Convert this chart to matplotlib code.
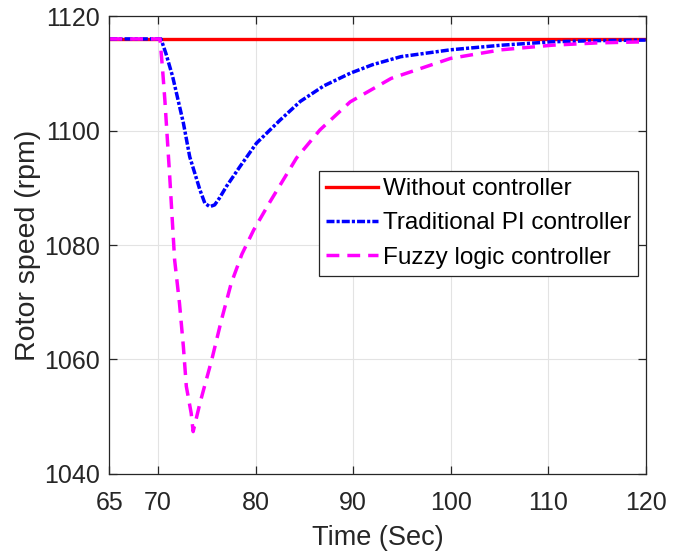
import matplotlib.pyplot as plt

plt.rcParams['font.family'] = ['Liberation Sans', 'DejaVu Sans']

# time axis (s) and rotor speed (rpm)
t_none = [65, 120]
w_none = [1116, 1116]

t_pi = [65, 70.3, 70.8, 71.5, 72.6, 73.25, 74.3, 74.8, 75.3, 75.8, 76.3, 77.0,
        78.4, 80.1, 82.5, 84.6, 87.0, 89.7, 92.0, 94.9, 100.0, 105.2, 110.4,
        115.0, 120.0]
w_pi = [1116, 1116, 1113.5, 1109.4, 1101.3, 1095.4, 1089.6, 1087.3, 1086.7,
        1087.0, 1088.2, 1090.2, 1093.7, 1097.8, 1101.8, 1105.1, 1107.8, 1110.0,
        1111.5, 1112.9, 1114.1, 1114.9, 1115.5, 1115.7, 1115.8]

t_fuzzy = [65, 70.2, 70.45, 70.7, 71.2, 71.7, 72.2, 72.6, 72.9, 73.4, 73.6,
           74.3, 75.5, 76.5, 77.5, 78.6, 79.8, 81.5, 84.2, 86.6, 89.7, 93.9,
           100.0, 105.2, 110.4, 115.0, 120.0]
w_fuzzy = [1116, 1116, 1111.0, 1105.3, 1091.9, 1077.4, 1069.8, 1062.2, 1055.3,
           1050.6, 1047.4, 1052.4, 1059.9, 1066.9, 1073.3, 1078.4, 1082.6,
           1087.6, 1095.2, 1100.1, 1105.0, 1109.1, 1112.6, 1114.1, 1114.9,
           1115.3, 1115.5]

labels = ['Without controller', 'Traditional PI controller', 'Fuzzy logic controller']
xticks = [65, 70, 80, 90, 100, 110, 120]
yticks = [1040, 1060, 1080, 1100, 1120]

fig = plt.figure(figsize=(6.86, 5.56), dpi=100)
ax = fig.add_axes([0.1593, 0.1475, 0.7819, 0.8237])

ax.plot(t_none, w_none, color='#ff0000', lw=2.4, label=labels[0])
ax.plot(t_pi, w_pi, color='#0000ff', lw=2.5, dashes=(2.3, 0.6, 0.9, 0.6), label=labels[1])
ax.plot(t_fuzzy, w_fuzzy, color='#ff00ff', lw=2.5, dashes=(3.7, 2.3), label=labels[2])

ax.set_xlim(65, 120)
ax.set_ylim(1040, 1120)
ax.set_xticks(xticks)
ax.set_yticks(yticks)
ax.grid(True, color='#e3e3e3', lw=0.8)
ax.set_axisbelow(True)

for s in ax.spines.values():
    s.set_color('#262626')
    s.set_linewidth(0.9)

ax.tick_params(direction='in', length=6, width=0.9, top=True, right=True,
               labelsize=18, colors='#262626', pad=7)
ax.tick_params(axis='x', pad=12.5)

ax.set_xlabel('Time (Sec)', fontsize=19.5, color='#262626', labelpad=7)
ax.set_ylabel('Rotor speed (rpm)', fontsize=20.5, color='#262626', labelpad=2)

leg = ax.legend(loc='upper left', bbox_to_anchor=(0.391, 0.6616), borderaxespad=0,
                fontsize=17.5, frameon=True, fancybox=False, framealpha=1,
                edgecolor='#262626', handlelength=2.14, handletextpad=0.2,
                borderpad=0.3, labelspacing=0.5)
leg.get_frame().set_linewidth(0.9)

fig.savefig('out.png', dpi=100)
